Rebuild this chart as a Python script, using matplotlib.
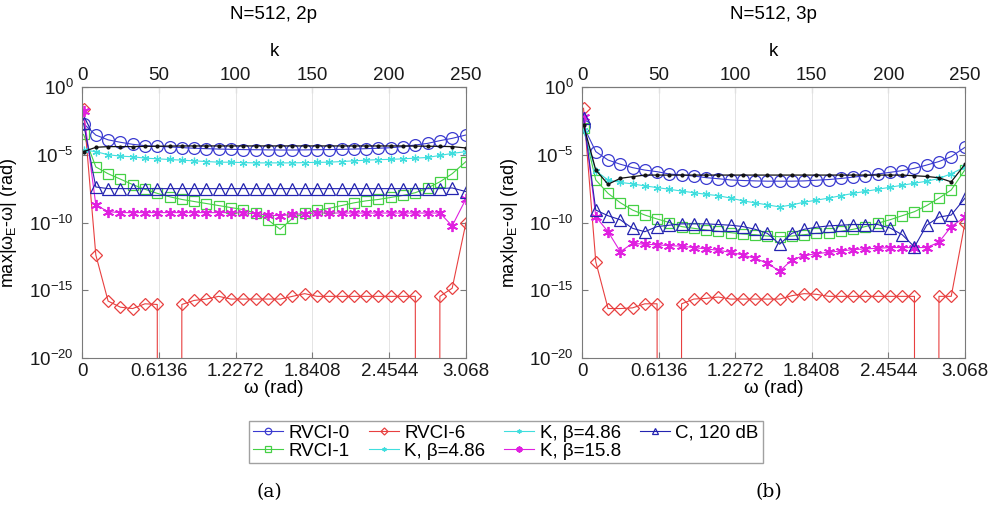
import numpy as np
import matplotlib
matplotlib.use('Agg')
import matplotlib.pyplot as plt
from matplotlib.ticker import NullLocator, FixedLocator

plt.rcParams['font.family'] = ['Liberation Sans', 'DejaVu Sans']
plt.rcParams['mathtext.fontset'] = 'custom'
plt.rcParams['mathtext.rm'] = 'Liberation Sans'
plt.rcParams['mathtext.it'] = 'Liberation Sans:italic'
plt.rcParams['axes.unicode_minus'] = False

# sample index k (N=512), omega = 2*pi*k/N
k_pts = [1, 9, 17, 25, 33, 41, 49, 57, 65, 73, 81, 89, 97, 105, 113, 121,
         129, 137, 145, 153, 161, 169, 177, 185, 193, 201, 209, 217, 225, 233, 241, 250]

# log10 of max|w_E - w| (-inf = exactly zero)
rvci0_2p = [-2.7, -3.55, -3.9, -4.08, -4.23, -4.33, -4.38, -4.42, -4.47, -4.52, -4.55, -4.58,
            -4.6, -4.62, -4.63, -4.64, -4.65, -4.65, -4.64, -4.63, -4.62, -4.6, -4.58, -4.55,
            -4.52, -4.48, -4.4, -4.28, -4.16, -3.96, -3.79, -3.54]
rvci1_2p = [-3.5, -5.9, -6.4, -6.8, -7.2, -7.55, -7.85, -8.1, -8.3, -8.45, -8.6, -8.75,
            -8.9, -9.05, -9.3, -9.8, -10.5, -9.7, -9.3, -9.1, -8.95, -8.75, -8.55, -8.4,
            -8.3, -8.15, -8.0, -7.8, -7.45, -7.0, -6.4, -5.5]
rvci6_2p = [-1.65, -12.4, -15.8, -16.25, -16.35, -16.0, -16.05, -np.inf, -16.05, -15.75, -15.65, -15.45,
            -15.65, -15.65, -15.65, -15.65, -15.65, -15.45, -15.25, -15.45, -15.45, -15.45, -15.45, -15.45,
            -15.45, -15.45, -15.45, -15.45, -np.inf, -15.45, -14.85, -10.0]
k486_2p = [-4.65, -4.77, -5.0, -5.1, -5.15, -5.25, -5.3, -5.35, -5.4, -5.45, -5.5, -5.55,
           -5.55, -5.58, -5.6, -5.6, -5.6, -5.6, -5.58, -5.56, -5.55, -5.5, -5.45, -5.4,
           -5.36, -5.34, -5.3, -5.25, -5.2, -5.05, -4.9, -4.77]
k158_2p = [-1.8, -8.7, -9.2, -9.27, -9.27, -9.27, -9.27, -9.27, -9.27, -9.27, -9.27, -9.27,
           -9.27, -9.3, -9.35, -9.45, -9.5, -9.4, -9.35, -9.3, -9.3, -9.3, -9.3, -9.3,
           -9.3, -9.3, -9.3, -9.3, -9.3, -9.3, -10.25, -8.25]
c120_2p = [-2.68, -7.38, -7.5, -7.5, -7.5, -7.5, -7.5, -7.5, -7.5, -7.5, -7.5, -7.5,
           -7.5, -7.5, -7.5, -7.5, -7.5, -7.5, -7.5, -7.5, -7.5, -7.5, -7.5, -7.5,
           -7.5, -7.5, -7.5, -7.5, -7.5, -7.5, -7.45, -7.72]
black_2p = [-4.77, -4.45, -4.4, -4.4, -4.4, -4.38, -4.37, -4.36, -4.35, -4.35, -4.35, -4.35,
            -4.35, -4.35, -4.35, -4.35, -4.35, -4.35, -4.35, -4.35, -4.35, -4.35, -4.35, -4.35,
            -4.35, -4.35, -4.35, -4.36, -4.37, -4.38, -4.4, -4.5]

rvci0_3p = [-2.9, -4.77, -5.39, -5.7, -5.95, -6.13, -6.25, -6.42, -6.5, -6.57, -6.69, -6.77,
            -6.86, -6.9, -6.93, -6.95, -6.95, -6.95, -6.93, -6.88, -6.83, -6.75, -6.65, -6.55,
            -6.42, -6.3, -6.17, -6.0, -5.76, -5.5, -5.14, -4.45]
rvci1_3p = [-3.05, -6.86, -7.85, -8.54, -9.08, -9.45, -9.74, -10.0, -10.3, -10.43, -10.55, -10.65,
            -10.75, -10.85, -10.9, -11.0, -11.05, -11.0, -10.9, -10.8, -10.75, -10.65, -10.5, -10.3,
            -10.05, -9.8, -9.5, -9.2, -8.75, -8.2, -7.6, -6.1]
rvci6_3p = [-1.57, -12.9, -16.35, -16.35, -16.3, -16.0, -16.0, -np.inf, -16.0, -15.65, -15.6, -15.5,
            -15.65, -15.65, -15.65, -15.65, -15.65, -15.4, -15.25, -15.3, -15.45, -15.45, -15.45, -15.45,
            -15.45, -15.45, -15.45, -15.45, -np.inf, -15.45, -15.45, -10.0]
k486_3p = [-3.2, -6.2, -6.86, -7.04, -7.15, -7.3, -7.42, -7.55, -7.68, -7.8, -7.92, -8.02,
           -8.2, -8.4, -8.55, -8.7, -8.85, -8.7, -8.5, -8.35, -8.2, -8.02, -7.85, -7.7,
           -7.55, -7.4, -7.25, -7.1, -6.95, -6.75, -6.4, -5.9]
k158_3p = [-2.2, -9.57, -10.68, -12.15, -11.54, -11.6, -11.65, -11.7, -11.75, -11.85, -11.95, -12.05,
           -12.2, -12.4, -12.65, -13.0, -13.6, -12.75, -12.45, -12.3, -12.2, -12.1, -12.0, -11.95,
           -11.9, -11.85, -11.85, -11.85, -11.85, -11.45, -10.3, -9.6]
c120_3p = [-2.3, -9.08, -9.5, -9.8, -10.43, -10.68, -10.3, -10.2, -10.1, -10.1, -10.1, -10.15,
           -10.2, -10.3, -10.5, -10.8, -11.6, -10.8, -10.5, -10.35, -10.25, -10.2, -10.15, -10.15,
           -10.15, -10.4, -10.9, -11.8, -10.2, -9.6, -9.45, -8.2]
black_3p = [-2.8, -6.13, -7.18, -6.74, -6.62, -6.5, -6.5, -6.5, -6.5, -6.5, -6.5, -6.5,
            -6.5, -6.5, -6.5, -6.5, -6.5, -6.5, -6.5, -6.5, -6.5, -6.5, -6.5, -6.5,
            -6.5, -6.5, -6.5, -6.55, -6.6, -6.7, -7.0, -5.7]

k_ticks = [0, 50, 100, 150, 200, 250]
w_ticklabels = ['0', '0.6136', '1.2272', '1.8408', '2.4544', '3.068']
panel_titles = ['N=512, 2p', 'N=512, 3p']
panel_tags = ['(a)', '(b)']

N = 512
w = 2 * np.pi * np.array(k_pts) / N

styles = [
    dict(label='RVCI-0', color='#3b3bd0', marker='o', ms=8.5, mfc='none'),
    dict(label='RVCI-1', color='#45d045', marker='s', ms=7, mfc='none'),
    dict(label='RVCI-6', color='#e84040', marker='D', ms=6.5, mfc='none'),
    dict(label='K, β=4.86', color='#40dede', marker=(6, 2, 0), ms=5.5),
    dict(label='K, β=15.8', color='#e020e0', marker=(6, 2, 0), ms=8),
    dict(label='C, 120 dB', color='#2424b0', marker='^', ms=8.5, mfc='none'),
]
panels = [
    [rvci0_2p, rvci1_2p, rvci6_2p, k486_2p, k158_2p, c120_2p, black_2p],
    [rvci0_3p, rvci1_3p, rvci6_3p, k486_3p, k158_3p, c120_3p, black_3p],
]

fig = plt.figure(figsize=(9.96, 5.13), dpi=100)
FS = 13.5
spine_c = '#7a7a7a'

ax_pos = [[82 / 996, 1 - 358 / 513, 384 / 996, 271 / 513],
          [582 / 996, 1 - 358 / 513, 383 / 996, 271 / 513]]

handles = {}
for p in range(2):
    ax = fig.add_axes(ax_pos[p])
    ax.set_yscale('log')
    ax.set_xlim(0, 2 * np.pi * 250 / N)
    ax.set_ylim(1e-20, 1)
    ax.grid(axis='x', color='#e4e4e4', lw=0.7)
    ax.set_axisbelow(True)

    for st, vals in zip(styles, panels[p][:6]):
        y = 10.0 ** np.array(vals)
        mew = 1.3 if st['label'] == 'K, β=15.8' else 0.9
        ln, = ax.plot(w, y, color=st['color'], marker=st['marker'], ms=st['ms'],
                      mfc=st.get('mfc', st['color']), mec=st['color'], mew=mew, lw=0.8)
        handles[st['label']] = ln
        if st['label'] == 'RVCI-1':
            # black curve (not in legend)
            ax.plot(w, 10.0 ** np.array(panels[p][6]), color='#111111', marker='.',
                    ms=4, lw=0.9, zorder=2.5)

    ax.yaxis.set_major_locator(FixedLocator([1e-20, 1e-15, 1e-10, 1e-5, 1]))
    ax.yaxis.set_minor_locator(NullLocator())
    ax.set_xticks(2 * np.pi * np.array(k_ticks) / N)
    ax.set_xticklabels(w_ticklabels)
    ax.tick_params(direction='in', length=4, labelsize=FS, right=True, color=spine_c,
                   labelcolor='#1a1a1a')
    ax.tick_params(axis='x', pad=3.5)
    ax.tick_params(axis='y', pad=6)
    ax.set_xlabel('ω (rad)', fontsize=FS, labelpad=0)
    ax.set_ylabel(r'max|ω$_\mathregular{E}$-ω| (rad)', fontsize=13)
    ax.yaxis.set_label_coords(-0.163, 0.5)
    for s in ax.spines.values():
        s.set_color(spine_c)

    sec = ax.secondary_xaxis('top', functions=(lambda x: x * N / (2 * np.pi),
                                               lambda kk: kk * 2 * np.pi / N))
    sec.set_xticks(k_ticks)
    sec.tick_params(direction='in', length=4, labelsize=FS, pad=2, color=spine_c,
                    labelcolor='#1a1a1a')
    sec.set_xlabel('k', fontsize=FS, labelpad=8)
    sec.spines['top'].set_color(spine_c)

    cx = (ax_pos[p][0] + ax_pos[p][2] / 2)
    fig.text(cx, 1 - 15 / 513, panel_titles[p], ha='center', va='center', fontsize=FS)
    fig.text(cx - 0.005, 1 - 492 / 513, panel_tags[p], ha='center', va='center',
             fontsize=13.5, family='DejaVu Serif')

order = ['RVCI-0', 'RVCI-1', 'RVCI-6', 'K, β=4.86', 'K, β=4.86', 'K, β=15.8', 'C, 120 dB']
leg = fig.legend([handles[o] for o in order], order, ncol=4, loc='center',
                 bbox_to_anchor=(506 / 996, 1 - 442 / 513), fontsize=FS, frameon=True,
                 fancybox=False, edgecolor='#8a8a8a', handlelength=1.6, handletextpad=0.3,
                 columnspacing=1.0, labelspacing=0.05, borderpad=0.2, markerscale=0.55,
                 borderaxespad=0)
leg.get_frame().set_linewidth(1.0)

fig.savefig('out.png', dpi=100)
